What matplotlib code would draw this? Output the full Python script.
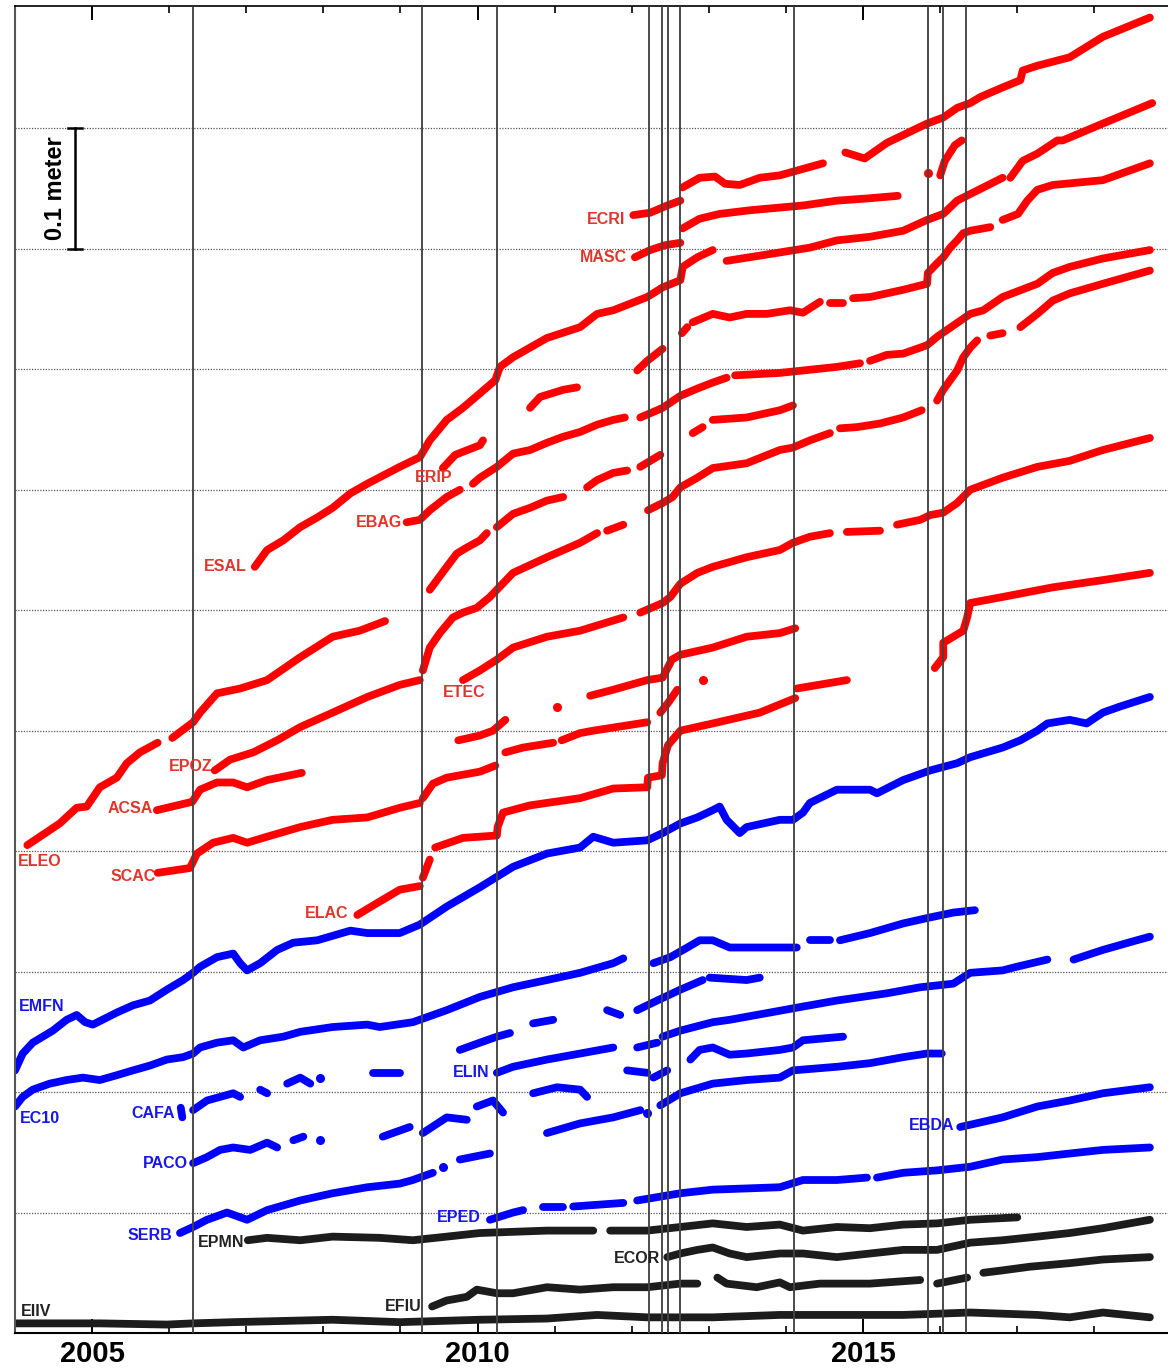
import matplotlib
matplotlib.use("Agg")
import matplotlib.pyplot as plt
from matplotlib.ticker import MultipleLocator

plt.rcParams['font.family'] = ['Liberation Sans', 'DejaVu Sans']

# ---------------- data: (decimal year, displacement in cm) segments ----------------
# red stations
ECRI = [
    [(2012.02, 92.8), (2012.24, 93.0), (2012.46, 93.6), (2012.63, 94.0)],
    [(2012.66, 95.1), (2012.88, 95.9), (2013.08, 96.0), (2013.21, 95.4), (2013.40, 95.3), (2013.66, 95.9),
     (2013.92, 96.1), (2014.48, 97.1)],
    [(2014.77, 98.0), (2015.02, 97.5), (2015.31, 98.8), (2015.83, 100.4), (2016.04, 100.9), (2016.22, 101.7),
     (2016.39, 102.1), (2016.52, 102.6), (2016.81, 103.4), (2017.04, 104.0), (2017.07, 104.8), (2017.26, 105.2),
     (2017.68, 105.9), (2018.11, 107.6), (2018.72, 109.2)],
]
MASC = [
    [(2012.04, 89.3), (2012.24, 89.9), (2012.43, 90.3), (2012.63, 90.5)],
    [(2012.66, 91.7), (2012.88, 92.5), (2013.14, 92.9), (2013.53, 93.2), (2014.22, 93.6), (2014.66, 94.0),
     (2015.09, 94.2), (2015.45, 94.4)],
    [(2015.84, 96.3)],
    [(2016.00, 96.1), (2016.06, 97.3), (2016.19, 98.6), (2016.28, 99.0)],
]
ESAL = [
    [(2007.11, 63.6), (2007.27, 65.0), (2007.48, 65.8), (2007.70, 66.9), (2007.92, 67.7), (2008.12, 68.5),
     (2008.35, 69.7), (2008.57, 70.5), (2008.99, 71.9), (2009.25, 72.7), (2009.38, 74.1), (2009.60, 75.8),
     (2009.81, 76.8), (2010.03, 78.0), (2010.23, 79.1), (2010.29, 80.2), (2010.46, 81.0), (2010.68, 81.8),
     (2010.90, 82.6), (2011.33, 83.5), (2011.55, 84.6), (2011.76, 84.9), (2012.20, 86.0), (2012.40, 86.8),
     (2012.63, 87.4), (2012.66, 88.5), (2012.85, 89.3), (2013.05, 89.9)],
    [(2013.23, 89.0), (2013.92, 89.7), (2014.31, 90.1), (2014.66, 90.7), (2015.09, 91.0), (2015.52, 91.5),
     (2015.83, 92.4), (2016.04, 92.9), (2016.22, 94.0), (2016.81, 95.9)],
    [(2016.91, 95.9), (2017.07, 97.3), (2017.26, 97.9), (2017.52, 99.0), (2017.59, 99.0), (2018.11, 100.4),
     (2018.75, 102.1)],
]
ERIP = [
    [(2009.55, 71.8), (2009.71, 72.9), (2010.03, 73.7), (2010.07, 74.1)],
    [(2010.68, 76.8), (2010.81, 77.7), (2011.11, 78.3), (2011.29, 78.5)],
    [(2012.07, 79.9), (2012.20, 80.7), (2012.40, 81.7)],
    [(2012.65, 83.0), (2012.72, 83.5)],
    [(2012.79, 83.9), (2013.05, 84.6), (2013.27, 84.3), (2013.49, 84.6), (2013.75, 84.6), (2014.05, 84.9),
     (2014.22, 84.7), (2014.44, 85.6)],
    [(2014.57, 85.5), (2014.74, 85.5)],
    [(2014.87, 85.9), (2015.09, 86.0), (2015.52, 86.6), (2015.83, 87.1), (2015.84, 88.0), (2015.96, 88.8),
     (2016.04, 89.3), (2016.13, 90.1), (2016.22, 90.7), (2016.30, 91.3), (2016.39, 91.5), (2016.65, 91.8)],
    [(2016.81, 92.4), (2017.01, 92.9), (2017.13, 94.0), (2017.26, 94.9), (2017.46, 95.3), (2018.11, 95.7),
     (2018.72, 97.1)],
]
EBAG = [
    [(2009.08, 67.3), (2009.25, 67.5), (2009.38, 68.3), (2009.60, 69.4), (2009.77, 70.0)],
    [(2009.94, 70.5), (2010.03, 71.0), (2010.25, 71.9), (2010.46, 73.0), (2010.68, 73.3), (2010.90, 73.9),
     (2011.11, 74.4), (2011.33, 74.8), (2011.55, 75.4), (2011.76, 75.8), (2011.91, 76.0)],
    [(2012.11, 76.0), (2012.33, 76.6), (2012.40, 76.8), (2012.63, 77.8), (2012.85, 78.4), (2013.05, 78.9),
     (2013.23, 79.3)],
    [(2013.34, 79.5), (2013.92, 79.7), (2014.22, 79.9), (2014.66, 80.2), (2014.96, 80.5)],
    [(2015.09, 80.7), (2015.31, 81.2), (2015.52, 81.3), (2015.83, 82.0), (2015.96, 82.7), (2016.39, 84.6),
     (2016.56, 84.9), (2016.81, 86.0), (2017.26, 87.1), (2017.46, 88.0), (2017.68, 88.5), (2018.11, 89.2),
     (2018.72, 89.9)],
]
RED_A = [
    [(2009.38, 61.7), (2009.60, 63.6), (2009.73, 64.7), (2009.86, 65.2), (2010.03, 65.8), (2010.12, 66.4)],
    [(2010.25, 66.9), (2010.46, 68.0), (2010.68, 68.5), (2010.90, 69.1), (2011.11, 69.4)],
    [(2011.42, 70.2), (2011.55, 70.8), (2011.76, 71.4), (2011.94, 71.6)],
    [(2012.11, 71.9), (2012.37, 72.9)],
    [(2012.79, 74.7), (2012.92, 75.2)],
    [(2013.05, 75.8), (2013.49, 76.0), (2013.92, 76.6), (2014.09, 77.0)],
    [(2015.96, 77.4), (2016.04, 78.3), (2016.13, 79.1), (2016.22, 79.9), (2016.30, 81.0), (2016.39, 81.8),
     (2016.48, 82.4)],
    [(2016.65, 82.8), (2016.81, 83.0)],
    [(2017.04, 83.5), (2017.26, 84.6), (2017.46, 85.7), (2017.68, 86.3), (2018.11, 87.1), (2018.72, 88.2)],
]
EPOZ = [
    [(2006.59, 46.7), (2006.79, 47.6), (2007.09, 48.2), (2007.40, 49.2), (2007.70, 50.3), (2008.12, 51.5),
     (2008.57, 52.8), (2008.99, 53.8), (2009.25, 54.2)],
    [(2009.29, 55.0), (2009.38, 56.9), (2009.51, 58.1), (2009.68, 59.4), (2009.81, 59.8), (2009.99, 60.2),
     (2010.16, 61.1), (2010.25, 61.7), (2010.46, 63.1), (2010.90, 64.4), (2011.33, 65.6), (2011.55, 66.4)],
    [(2011.68, 66.6), (2011.89, 67.1)],
    [(2012.21, 68.3), (2012.40, 68.9), (2012.53, 69.4), (2012.63, 70.2), (2012.85, 71.0), (2013.05, 71.8),
     (2013.49, 72.2), (2013.92, 73.3), (2014.09, 73.5), (2014.31, 74.1), (2014.57, 74.7)],
    [(2014.70, 75.1), (2014.92, 75.2), (2015.22, 75.5), (2015.52, 76.0), (2015.76, 76.6)],
]
ETEC = [
    [(2009.81, 54.2), (2010.03, 55.0), (2010.25, 55.9), (2010.46, 56.9), (2010.90, 57.8), (2011.33, 58.3),
     (2011.89, 59.4)],
    [(2012.11, 59.8), (2012.40, 60.6), (2012.50, 61.1), (2012.63, 62.2), (2012.85, 63.1), (2013.05, 63.6),
     (2013.49, 64.4), (2013.92, 65.0), (2014.09, 65.6), (2014.31, 66.1), (2014.57, 66.4)],
    [(2014.79, 66.5), (2015.22, 66.6)],
    [(2015.44, 67.1), (2015.74, 67.5), (2015.87, 67.9), (2016.04, 68.1), (2016.22, 68.9), (2016.39, 70.0),
     (2016.81, 71.0), (2017.26, 71.9), (2017.68, 72.4), (2018.11, 73.3), (2018.72, 74.3)],
]
RED_B = [
    [(2011.46, 52.9), (2011.76, 53.4), (2012.20, 54.2), (2012.40, 54.4), (2012.52, 55.9), (2012.63, 56.3),
     (2013.05, 56.9), (2013.49, 57.8), (2013.92, 58.1), (2014.12, 58.5)],
    [(2015.93, 55.2), (2016.04, 56.1), (2016.04, 57.3), (2016.30, 58.3), (2016.35, 59.4), (2016.39, 60.6),
     (2016.81, 61.1), (2017.46, 61.9), (2018.11, 62.5), (2018.72, 63.1)],
]
ELAC = [
    [(2008.44, 34.7), (2008.70, 35.7), (2008.99, 36.8), (2009.25, 37.1)],
    [(2009.29, 37.8), (2009.38, 39.3)],
    [(2009.45, 40.3), (2009.81, 41.1), (2010.25, 41.3), (2010.26, 42.0), (2010.33, 43.2), (2010.68, 43.8),
     (2011.33, 44.4), (2011.76, 45.2), (2012.20, 45.3), (2012.21, 46.1), (2012.39, 46.3), (2012.40, 47.3),
     (2012.47, 48.8), (2012.63, 50.0), (2013.05, 50.6), (2013.66, 51.5), (2014.12, 52.7)],
    [(2014.14, 53.5), (2014.79, 54.2)],
]
ELEO = [
    [(2004.16, 40.5), (2004.58, 42.3), (2004.80, 43.6), (2004.93, 43.7), (2005.10, 45.3), (2005.32, 46.1),
     (2005.45, 47.3), (2005.62, 48.2), (2005.85, 49.0)],
    [(2006.04, 49.4), (2006.31, 50.7), (2006.40, 51.5), (2006.62, 53.1), (2006.92, 53.5), (2007.27, 54.2),
     (2007.70, 56.1), (2008.12, 57.8), (2008.47, 58.3), (2008.80, 59.1)],
]
ACSA = [
    [(2005.84, 43.4), (2006.30, 44.1), (2006.40, 45.1), (2006.62, 45.7), (2006.83, 45.7), (2007.01, 45.3),
     (2007.27, 45.9), (2007.72, 46.5)],
]
SCAC = [
    [(2005.85, 38.2), (2006.27, 38.6), (2006.36, 39.8), (2006.57, 40.7), (2006.83, 41.1), (2007.01, 40.7),
     (2007.27, 41.2), (2007.70, 42.0), (2008.12, 42.6), (2008.57, 42.8), (2008.99, 43.6), (2009.25, 44.0)],
    [(2009.29, 44.4), (2009.42, 45.6), (2009.60, 46.1), (2010.03, 46.6), (2010.23, 47.1)],
    [(2010.36, 48.2), (2010.59, 48.6), (2010.98, 49.0)],
    [(2011.09, 49.2), (2011.33, 49.8), (2011.50, 50.0), (2012.20, 50.7)],
    [(2012.37, 51.5), (2012.47, 52.3), (2012.59, 53.4)],
    [(2012.92, 54.2)],
]
RED_C = [
    [(2009.75, 49.2), (2010.03, 49.6), (2010.20, 50.0), (2010.36, 50.9)],
    [(2011.03, 52.0)],
]

# blue stations
EMFN = [
    [(2004.00, 21.8), (2004.10, 23.2), (2004.23, 24.1), (2004.36, 24.6), (2004.49, 25.1), (2004.67, 26.0),
     (2004.80, 26.4), (2004.91, 25.8), (2005.01, 25.6), (2005.32, 26.6), (2005.53, 27.2), (2005.75, 27.6),
     (2005.97, 28.5), (2006.18, 29.3), (2006.31, 29.9), (2006.40, 30.4), (2006.62, 31.2), (2006.83, 31.5),
     (2006.92, 30.7), (2007.01, 30.1), (2007.18, 30.7), (2007.40, 31.8), (2007.61, 32.4), (2007.92, 32.6),
     (2008.35, 33.4), (2008.57, 33.2), (2008.99, 33.2), (2009.25, 33.9), (2009.60, 35.4), (2010.03, 37.0),
     (2010.46, 38.7), (2010.90, 39.8), (2011.33, 40.3), (2011.50, 41.2), (2011.76, 40.7), (2012.20, 40.9),
     (2012.40, 41.5), (2012.63, 42.3), (2012.85, 42.8), (2013.05, 43.4), (2013.14, 43.7), (2013.23, 42.6),
     (2013.40, 41.5), (2013.49, 42.0), (2013.92, 42.6), (2014.09, 42.6), (2014.22, 43.2), (2014.31, 44.0),
     (2014.66, 45.1), (2015.09, 45.1), (2015.18, 44.8), (2015.52, 45.9), (2015.87, 46.7), (2016.22, 47.3),
     (2016.39, 47.8), (2016.81, 48.6), (2017.04, 49.2), (2017.26, 50.0), (2017.39, 50.6), (2017.68, 50.9),
     (2017.90, 50.6), (2018.11, 51.5), (2018.33, 52.0), (2018.72, 52.8)],
]
EC10 = [
    [(2004.00, 18.8), (2004.10, 19.6), (2004.23, 20.2), (2004.45, 20.7), (2004.67, 21.0), (2004.88, 21.2),
     (2005.10, 21.0), (2005.32, 21.4), (2005.53, 21.8), (2005.75, 22.2), (2005.97, 22.7), (2006.18, 22.9),
     (2006.31, 23.2), (2006.40, 23.7), (2006.62, 24.1), (2006.83, 24.3), (2006.96, 23.7), (2007.18, 24.3),
     (2007.48, 24.6), (2007.70, 25.0), (2008.12, 25.4), (2008.57, 25.6), (2008.73, 25.4), (2009.16, 25.8),
     (2009.60, 26.8), (2010.03, 27.9), (2010.46, 28.7), (2010.90, 29.3), (2011.33, 29.9), (2011.76, 30.7),
     (2011.89, 31.1)],
    [(2012.28, 30.7), (2012.50, 31.2), (2012.72, 32.0), (2012.88, 32.6), (2013.05, 32.6), (2013.27, 32.0),
     (2013.49, 32.0), (2014.14, 32.0)],
    [(2014.31, 32.6), (2014.57, 32.6)],
    [(2014.70, 32.6), (2015.09, 33.2), (2015.52, 34.0), (2015.87, 34.5), (2016.17, 34.9), (2016.45, 35.1)],
]
ELIN = [
    [(2010.25, 21.6), (2010.46, 22.1), (2010.90, 22.7), (2011.33, 23.2), (2011.76, 23.7)],
    [(2012.07, 23.7), (2012.33, 24.1)],
    [(2012.40, 24.6), (2012.63, 25.1), (2013.05, 25.8), (2013.27, 26.0), (2013.79, 26.6), (2014.22, 27.1),
     (2014.66, 27.6), (2015.31, 28.2), (2015.74, 28.7), (2016.17, 29.0), (2016.39, 29.9), (2016.81, 30.1),
     (2016.99, 30.4), (2017.39, 31.0)],
    [(2017.73, 31.0), (2018.11, 31.8), (2018.55, 32.6), (2018.72, 32.9)],
]
CAFA = [
    [(2006.15, 18.7), (2006.17, 17.9)],
    [(2006.31, 18.5), (2006.49, 19.3), (2006.83, 19.9), (2006.92, 19.6)],
    [(2007.18, 20.2), (2007.27, 19.9)],
    [(2007.53, 20.7), (2007.70, 21.2), (2007.83, 20.7)],
    [(2007.96, 21.2)],
    [(2008.64, 21.6), (2008.99, 21.6)],
    [(2009.77, 23.5), (2010.03, 24.1), (2010.25, 24.6), (2010.42, 24.9)],
    [(2010.72, 25.7), (2010.98, 26.0)],
    [(2011.68, 26.8), (2011.85, 26.4)],
    [(2012.07, 26.8), (2012.33, 27.6), (2012.63, 28.5), (2012.92, 29.3)],
    [(2013.01, 29.5), (2013.49, 29.3), (2013.66, 29.5)],
]
BLUE_A = [
    [(2010.72, 19.9), (2011.03, 20.4), (2011.33, 20.2), (2011.42, 19.6)],
    [(2011.94, 21.8), (2012.20, 21.6)],
    [(2012.28, 21.2), (2012.46, 21.8)],
    [(2012.76, 22.7), (2012.88, 23.5), (2013.05, 23.7), (2013.27, 23.1), (2013.49, 23.2), (2013.92, 23.5),
     (2014.09, 23.7), (2014.22, 24.3), (2014.74, 24.6)],
]
PACO = [
    [(2006.31, 14.1), (2006.49, 14.6), (2006.66, 15.2), (2006.83, 15.4), (2007.05, 15.2), (2007.27, 15.8),
     (2007.40, 15.4)],
    [(2007.61, 16.0), (2007.74, 16.3)],
    [(2007.96, 16.0)],
    [(2008.77, 16.3), (2009.12, 17.1)],
    [(2009.29, 16.6), (2009.60, 17.9), (2009.86, 17.7)],
    [(2009.99, 18.8), (2010.20, 19.3), (2010.33, 18.3)],
    [(2010.90, 16.6), (2011.33, 17.4), (2011.76, 17.9), (2012.11, 18.5)],
    [(2012.20, 18.3)],
    [(2012.37, 18.9), (2012.63, 19.9), (2013.05, 20.7), (2013.49, 21.0), (2013.92, 21.2), (2014.09, 21.8),
     (2014.66, 22.1), (2015.09, 22.4), (2015.52, 22.9), (2015.83, 23.2), (2016.02, 23.2)],
]
SERB = [
    [(2006.14, 8.3), (2006.31, 8.8), (2006.49, 9.4), (2006.75, 10.0), (2007.01, 9.4), (2007.27, 10.2),
     (2007.70, 11.0), (2008.12, 11.6), (2008.57, 12.1), (2008.99, 12.4), (2009.16, 12.7), (2009.42, 13.3)],
    [(2009.55, 13.8)],
    [(2009.77, 14.4), (2010.16, 14.9)],
]
EPED = [
    [(2010.16, 9.4), (2010.46, 10.0), (2010.59, 10.2)],
    [(2010.85, 10.5), (2011.11, 10.5)],
    [(2011.24, 10.5), (2011.89, 10.8)],
    [(2012.07, 11.0), (2012.63, 11.6), (2013.05, 11.9), (2013.92, 12.1), (2014.22, 12.7), (2014.66, 12.7),
     (2015.05, 12.9)],
    [(2015.18, 12.9), (2015.52, 13.3), (2015.96, 13.5), (2016.39, 13.8), (2016.81, 14.4), (2017.26, 14.6),
     (2017.68, 14.9), (2018.11, 15.2), (2018.72, 15.4)],
]
EBDA = [
    [(2016.26, 17.1), (2016.81, 17.9), (2017.26, 18.8), (2017.68, 19.3), (2018.11, 19.9), (2018.72, 20.4)],
]

# black stations
EPMN = [
    [(2007.02, 7.7), (2007.27, 7.9), (2007.70, 7.7), (2008.12, 8.0), (2008.73, 7.9), (2009.16, 7.7),
     (2009.60, 8.0), (2010.03, 8.3), (2010.90, 8.5), (2011.50, 8.5)],
    [(2011.72, 8.5), (2012.20, 8.5), (2012.63, 8.8), (2013.05, 9.1), (2013.49, 8.8), (2013.92, 9.0),
     (2014.22, 8.5), (2014.66, 8.8), (2015.09, 8.7), (2015.52, 9.0), (2015.96, 9.1), (2016.39, 9.4),
     (2017.00, 9.6)],
]
ECOR = [
    [(2012.46, 6.3), (2012.63, 6.6), (2012.85, 6.9), (2013.05, 7.1), (2013.27, 6.6), (2013.49, 6.3),
     (2013.92, 6.6), (2014.22, 6.6), (2014.66, 6.3), (2015.09, 6.6), (2015.52, 6.9), (2015.96, 6.9),
     (2016.39, 7.5), (2016.81, 7.7), (2017.26, 8.0), (2017.68, 8.3), (2018.11, 8.7), (2018.72, 9.4)],
]
EFIU = [
    [(2009.41, 2.2), (2009.60, 2.7), (2009.86, 3.0), (2009.99, 3.6), (2010.25, 3.3), (2010.46, 3.3),
     (2010.90, 3.8), (2011.33, 3.6), (2011.76, 3.8), (2012.20, 3.8), (2012.63, 4.1), (2012.85, 4.1)],
    [(2013.11, 4.6), (2013.23, 4.1), (2013.62, 3.8), (2013.92, 4.2), (2014.05, 3.8), (2014.44, 4.1),
     (2015.09, 4.1), (2015.74, 4.4)],
    [(2015.96, 4.1), (2016.35, 4.6)],
    [(2016.56, 5.0), (2016.81, 5.2), (2017.16, 5.5), (2017.68, 5.8), (2018.11, 6.1), (2018.72, 6.3)],
]
EIIV = [
    [(2004.00, 0.8), (2005.10, 0.8), (2005.97, 0.7), (2006.31, 0.8), (2006.83, 0.9), (2008.12, 1.1),
     (2008.99, 0.9), (2010.03, 1.1), (2010.90, 1.2), (2011.55, 1.5), (2012.20, 1.3), (2013.05, 1.3),
     (2013.92, 1.5), (2014.66, 1.5), (2015.52, 1.5), (2016.39, 1.7), (2017.26, 1.5), (2017.68, 1.3),
     (2018.11, 1.7), (2018.72, 1.3)],
]

RED_SERIES = [ECRI, MASC, ESAL, ERIP, EBAG, RED_A, EPOZ, ETEC, RED_B, ELAC, ELEO, ACSA, SCAC, RED_C]
BLUE_SERIES = [EMFN, EC10, ELIN, CAFA, BLUE_A, PACO, SERB, EPED, EBDA]
BLACK_SERIES = [EPMN, ECOR, EFIU, EIIV]

# event (offset) epochs
EVENTS = [2006.305, 2009.275, 2010.248, 2012.219, 2012.388, 2012.466, 2012.625,
          2014.104, 2015.838, 2016.032, 2016.334]

# station labels: name, year, cm, horizontal alignment, group
LABEL_NAMES = ['ECRI', 'MASC', 'ERIP', 'EBAG', 'ESAL', 'ETEC', 'EPOZ', 'ACSA', 'ELEO', 'SCAC', 'ELAC',
               'EMFN', 'EC10', 'CAFA', 'PACO', 'SERB', 'ELIN', 'EPED', 'EBDA',
               'EPMN', 'EIIV', 'EFIU', 'ECOR']
LABEL_T = [2011.91, 2011.94, 2009.67, 2009.02, 2007.01, 2010.10, 2006.56, 2005.79, 2004.04, 2005.82, 2008.32,
           2004.05, 2004.06, 2006.08, 2006.24, 2006.04, 2010.16, 2010.04, 2016.18,
           2006.97, 2004.08, 2009.28, 2012.37]
LABEL_V = [92.4, 89.3, 71.0, 67.3, 63.6, 53.2, 47.0, 43.5, 39.1, 37.9, 34.8,
           27.1, 17.8, 18.2, 14.1, 8.1, 21.6, 9.6, 17.2,
           7.5, 1.8, 2.2, 6.2]
LABEL_HA = ['right'] * 8 + ['left'] + ['right'] * 2 + ['left', 'left'] + ['right'] * 6 + ['right', 'left', 'right', 'right']
LABEL_GROUP = ['red'] * 11 + ['blue'] * 8 + ['black'] * 4

# ---------------- drawing ----------------
COLORS = {'red': '#ff0000', 'blue': '#0000ff', 'black': '#1c1c1c'}
LABEL_COLORS = {'red': '#e0352b', 'blue': '#1717e8', 'black': '#222222'}

fig = plt.figure(figsize=(11.68, 13.71), dpi=100)
ax = fig.add_axes([15 / 1168, 38 / 1371, 1153 / 1168, 1327.5 / 1371])
ax.set_xlim(2004.0, 2018.955)
ax.set_ylim(0, 110.2)

for v in range(10, 101, 10):
    ax.axhline(v, color='#555555', lw=0.9, ls=(0, (1, 1.2)), zorder=1)


def draw(segs, color):
    for seg in segs:
        t = [p[0] for p in seg]
        v = [p[1] for p in seg]
        if len(seg) == 1:
            ax.plot(t, v, 'o', color=color, ms=6.5, mec='none', zorder=2)
        else:
            ax.plot(t, v, '-', color=color, lw=5.6, solid_capstyle='round',
                    solid_joinstyle='round', zorder=2)


for s in RED_SERIES:
    draw(s, COLORS['red'])
for s in BLUE_SERIES:
    draw(s, COLORS['blue'])
for s in BLACK_SERIES:
    draw(s, COLORS['black'])

for e in EVENTS:
    ax.axvline(e, ymin=0, ymax=0.998, color='#444444', lw=1.35, zorder=3)

for name, t, v, ha, g in zip(LABEL_NAMES, LABEL_T, LABEL_V, LABEL_HA, LABEL_GROUP):
    ax.text(t, v, name, ha=ha, va='center', fontsize=11.5, fontweight='bold',
            color=LABEL_COLORS[g], zorder=4)

# scale bar
ax.plot([2004.78, 2004.78], [90, 100], color='k', lw=1.8, zorder=4)
ax.plot([2004.69, 2004.87], [100, 100], color='k', lw=1.8, zorder=4)
ax.plot([2004.69, 2004.87], [90, 90], color='k', lw=1.8, zorder=4)
ax.text(2004.53, 95.0, '0.1 meter', rotation=90, ha='center', va='center',
        fontsize=17, fontweight='bold', zorder=4)

# axes styling
ax.set_yticks([])
ax.set_xticks([2005, 2010, 2015])
ax.set_xticklabels(['2005', '2010', '2015'], fontsize=21, fontweight='bold')
ax.xaxis.set_minor_locator(MultipleLocator(1))
ax.tick_params(axis='x', which='major', direction='in', length=10, width=1.4,
               top=True, bottom=True, pad=5)
ax.tick_params(axis='x', which='minor', direction='in', length=5, width=1.2,
               top=True, bottom=True)
ax.spines['right'].set_visible(False)
ax.spines['left'].set_color('#555555')
ax.spines['left'].set_linewidth(1.5)
ax.spines['top'].set_linewidth(1.2)
ax.spines['bottom'].set_linewidth(1.5)

fig.savefig('out.png', dpi=100)
